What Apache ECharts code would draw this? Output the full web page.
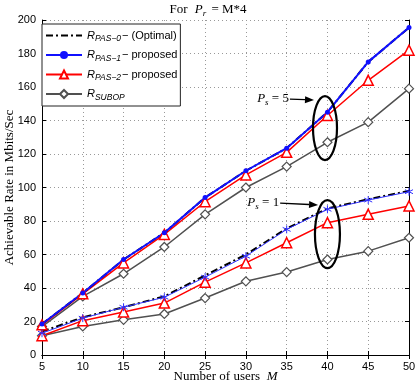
<!DOCTYPE html>
<html><head><meta charset="utf-8">
<script src="https://cdn.jsdelivr.net/npm/echarts@6/dist/echarts.min.js"></script>
<style>html,body{margin:0;padding:0;background:#fff}#c{width:416px;height:385px}</style>
</head><body><div id="c"></div>
<script>
const users = [5,10,15,20,25,30,35,40,45,50];
const yTicks = [0,20,40,60,80,100,120,140,160,180,200];
// Ps = 5
const ps5Opt   = [18.5, 37, 57, 73, 94, 110, 123.5, 145, 175, 195.5];
const ps5Pas1  = [18.5, 37, 57, 73, 94, 110, 123.5, 145, 175, 195.5];
const ps5Pas2  = [18, 36.5, 55, 72, 91.5, 107.5, 121, 143, 164, 182];
const ps5Subop = [17, 35, 48.5, 64.5, 84, 100, 112.5, 127, 139, 159];
// Ps = 1
const ps1Opt   = [14, 22.5, 28.5, 35, 47.5, 60, 75.5, 87.5, 93, 98];
const ps1Pas1  = [13, 22, 28.5, 34.5, 46.5, 59, 75, 87, 92.5, 97.5];
const ps1Pas2  = [11.5, 20.5, 25.7, 31, 43.5, 55, 67, 79, 84, 89];
const ps1Subop = [11.5, 17, 21, 24.5, 34, 44, 49.5, 57, 62, 70];

const names = ['opt','pas1','pas2','subop'];
const legendText = {
  opt: '{i|R}{s|PAS−0}{n|− (Optimal)}',
  pas1: '{i|R}{s|PAS−1}{n|− proposed}',
  pas2: '{i|R}{s|PAS−2}{n|− proposed}',
  subop: '{i|R}{s|SUBOP}'
};
const pair = v => users.map((m,i)=>[m,v[i]]);
const star = 'path://M0,-10L0,10M-8.7,-5L8.7,5M-8.7,5L8.7,-5';
const grayC = '#505050';

const chart = echarts.init(document.getElementById('c'));
const axisCommon = {
  axisLine:{show:true,lineStyle:{color:'#000',width:1}},
  axisTick:{show:true,inside:true,length:4,lineStyle:{color:'#000'}},
};
chart.setOption({
  animation:false,
  backgroundColor:'#fff',
  title:{
    text:'{n|For }{i|P}{s|r}{n| = M*4}',
    left:'center', top:-4,
    textStyle:{fontWeight:'normal',rich:{
      n:{fontFamily:'Liberation Serif',fontWeight:'normal',fontSize:13,color:'#000'},
      i:{fontFamily:'Liberation Serif',fontWeight:'normal',fontStyle:'italic',fontSize:13,color:'#000',padding:[0,0,0,4]},
      s:{fontFamily:'Liberation Serif',fontWeight:'normal',fontStyle:'italic',fontSize:9,color:'#000',verticalAlign:'bottom',padding:[8,2,0,0]}
    }}
  },
  grid:{left:42,right:7,top:20,bottom:30,containLabel:false,outerBoundsMode:'none'},
  legend:{
    left:42, top:24, orient:'vertical', itemWidth:36, itemHeight:10, itemGap:6,
    padding:[6,3,4,3], borderColor:'#222', borderWidth:1, backgroundColor:'#fff',
    data:[{name:'opt',itemStyle:{opacity:0}},'pas1','pas2','subop'],
    formatter: n => legendText[n],
    textStyle:{rich:{
      i:{fontFamily:'Liberation Sans',fontStyle:'italic',fontSize:11,color:'#000'},
      s:{fontFamily:'Liberation Sans',fontStyle:'italic',fontSize:8.5,color:'#000',verticalAlign:'bottom',padding:[7,1,0,0]},
      n:{fontFamily:'Liberation Sans',fontSize:11,color:'#000'}
    }}
  },
  xAxis:[{
    type:'value', min:5, max:50, interval:5, position:'bottom',
    ...axisCommon,
    axisLabel:{fontFamily:'Liberation Sans',fontSize:11,color:'#000',margin:6},
    splitLine:{show:true,lineStyle:{type:[1,3],color:'#999'}},
    name:'{n|Number of users  }{i|M}', nameLocation:'middle', nameGap:15, nameMoveOverlap:false,
    nameTextStyle:{rich:{
      n:{fontFamily:'Liberation Serif',fontSize:13,color:'#000'},
      i:{fontFamily:'Liberation Serif',fontStyle:'italic',fontSize:13,color:'#000'}
    }}
  },{
    type:'value', min:5, max:50, interval:5, position:'top',
    ...axisCommon, axisLabel:{show:false}, splitLine:{show:false}
  }],
  yAxis:[{
    type:'value', min:0, max:200, interval:20,
    ...axisCommon,
    axisLabel:{fontFamily:'Liberation Sans',fontSize:11,color:'#000',margin:6},
    splitLine:{show:true,lineStyle:{type:[1,3],color:'#999'}},
    name:'Achievable Rate in Mbits/Sec', nameLocation:'middle', nameGap:26, nameMoveOverlap:false,
    nameTextStyle:{fontFamily:'Liberation Serif',fontSize:13,color:'#000'}
  },{
    type:'value', min:0, max:200, interval:20, position:'right',
    ...axisCommon, axisLabel:{show:false}, splitLine:{show:false}
  }],
  series:[
    {name:'subop',type:'line',data:pair(ps5Subop),symbol:'diamond',symbolSize:9,
     lineStyle:{color:grayC,width:1.5},itemStyle:{color:'#fff',borderColor:grayC,borderWidth:1.2},color:grayC},
    {name:'subop',type:'line',data:pair(ps1Subop),symbol:'diamond',symbolSize:9,
     lineStyle:{color:grayC,width:1.5},itemStyle:{color:'#fff',borderColor:grayC,borderWidth:1.2},color:grayC},
    {name:'pas2',type:'line',data:pair(ps5Pas2),symbol:'triangle',symbolSize:10,
     lineStyle:{color:'#ff0000',width:1.5},itemStyle:{color:'#fff',borderColor:'#ff0000',borderWidth:1.5},color:'#ff0000'},
    {name:'pas2',type:'line',data:pair(ps1Pas2),symbol:'triangle',symbolSize:10,
     lineStyle:{color:'#ff0000',width:1.5},itemStyle:{color:'#fff',borderColor:'#ff0000',borderWidth:1.5},color:'#ff0000'},
    {name:'opt',type:'line',data:pair(ps1Opt),symbol:'none',
     lineStyle:{color:'#000',width:2,type:[7,3,2,3]},itemStyle:{color:'#000'},color:'#000'},
    {name:'opt',type:'line',data:pair(ps5Opt),symbol:'none',
     lineStyle:{color:'#000',width:2,type:[7,3,2,3]},itemStyle:{color:'#000'},color:'#000'},
    {name:'pas1',type:'line',data:pair(ps5Pas1),symbol:'circle',symbolSize:5,
     lineStyle:{color:'#1010ff',width:2},itemStyle:{color:'#1010ff'},color:'#1010ff'},
    {name:'pas1',type:'line',data:pair(ps1Pas1),symbol:star,symbolSize:8,
     lineStyle:{color:'#3030ff',width:1},itemStyle:{color:'#3030ff',borderColor:'#3030ff',borderWidth:1},color:'#3030ff'}
  ]
});

// annotations placed in data coordinates
const P = (x,y) => chart.convertToPixel({gridIndex:0},[x,y]);
const e5 = P(39.7,135.5), e1 = P(40,72.2);
const a5s = P(35.4,152.8), a5e = P(38.35,152.2);
const a1s = P(34.2,90.7), a1e = P(38.85,89.6);
function arrow(s,e){
  const dx=e[0]-s[0], dy=e[1]-s[1], L=Math.hypot(dx,dy), ux=dx/L, uy=dy/L;
  const bx=e[0]-ux*9, by=e[1]-uy*9;
  return [
    {type:'line',shape:{x1:s[0],y1:s[1],x2:bx,y2:by},style:{stroke:'#000',lineWidth:1.3},z:100},
    {type:'polygon',shape:{points:[[e[0],e[1]],[bx-uy*3.5,by+ux*3.5],[bx+uy*3.5,by-ux*3.5]]},style:{fill:'#000'},z:100}
  ];
}
const lbl = (p,sub,val) => ({type:'text',x:p[0]-1,y:p[1],z:100,style:{
  text:'{i|P}{s|'+sub+'}{n| = '+val+'}',verticalAlign:'middle',align:'right',
  rich:{
    i:{fontFamily:'Liberation Serif',fontStyle:'italic',fontSize:13,fill:'#000'},
    s:{fontFamily:'Liberation Serif',fontStyle:'italic',fontSize:9,fill:'#000',verticalAlign:'bottom',padding:[8,0,0,0]},
    n:{fontFamily:'Liberation Serif',fontSize:13,fill:'#000'}
  }}});
chart.setOption({graphic:[
  {type:'ellipse',shape:{cx:e5[0],cy:e5[1],rx:12,ry:32},style:{fill:'none',stroke:'#000',lineWidth:2.2},z:100},
  {type:'ellipse',shape:{cx:e1[0],cy:e1[1],rx:12.5,ry:34},style:{fill:'none',stroke:'#000',lineWidth:2.2},z:100},
  lbl(a5s,'s','5'),
  lbl(a1s,'s','1'),
  ...arrow(a5s,a5e),
  ...arrow(a1s,a1e)
]});
</script></body></html>
